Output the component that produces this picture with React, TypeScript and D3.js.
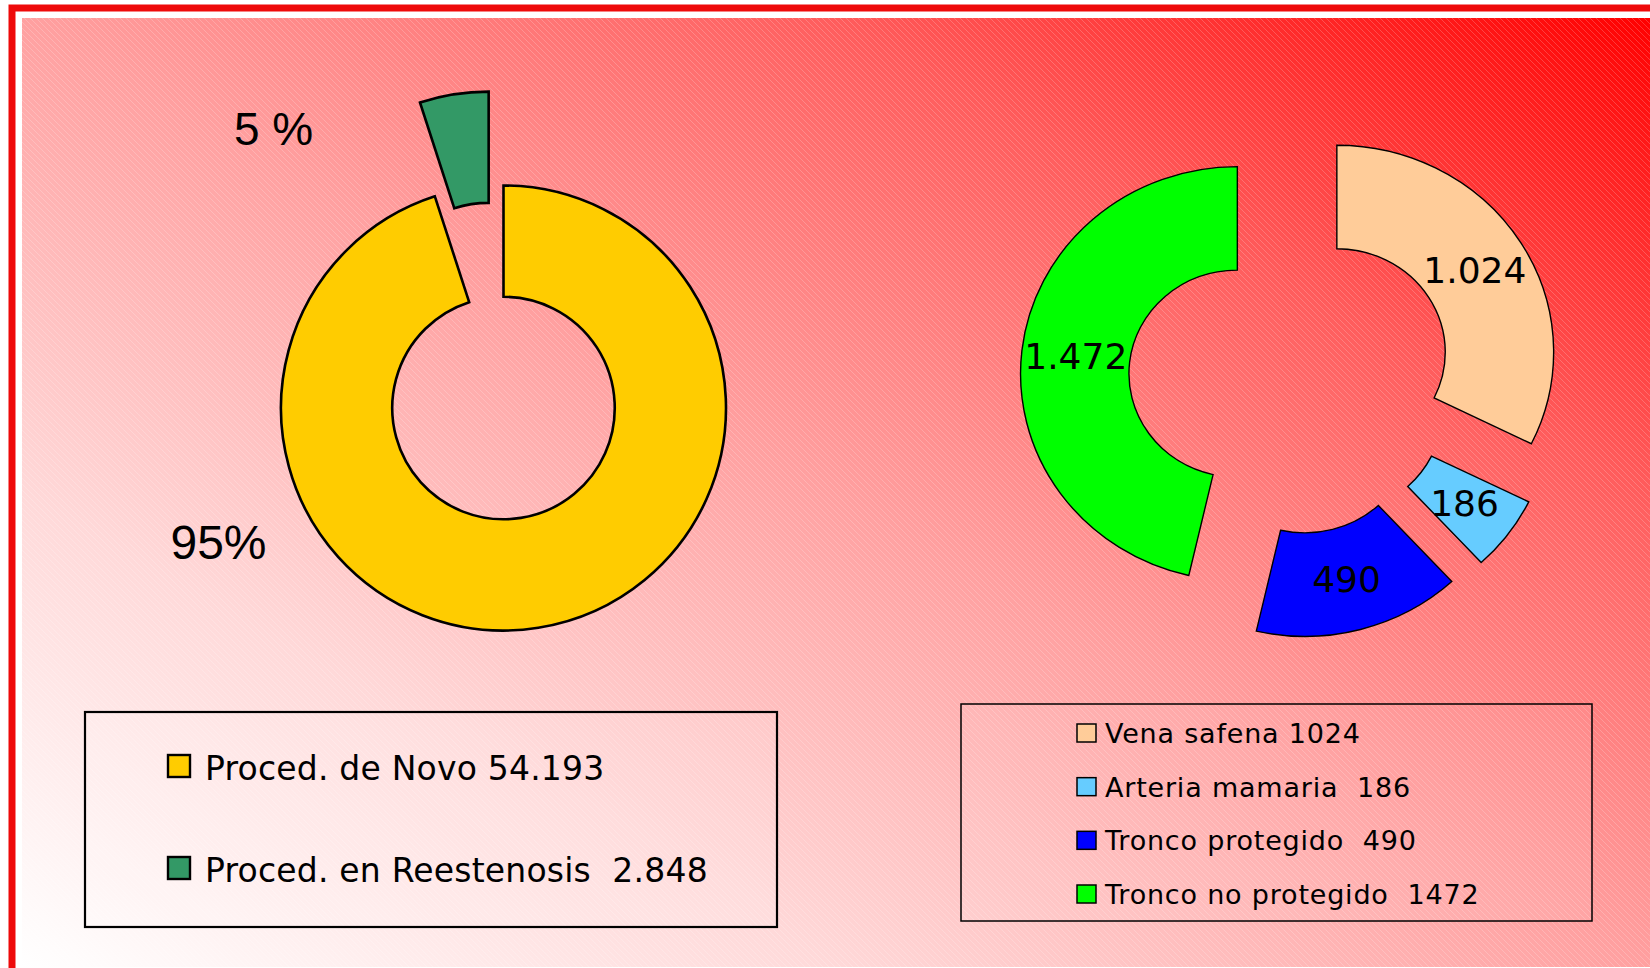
import { useMemo } from "react";
import * as d3 from "d3";

// left doughnut: procedures
const procCategories = ["Proced. de Novo", "Proced. en Reestenosis"];
const procValues = [54193, 2848];
const procLegendGap = [" ", "  "];
const procPctLabels = ["95%", "5 %"];
const procColors = ["#FFCC00", "#339966"];

// right doughnut: lesion types
const graftCategories = ["Vena safena", "Arteria mamaria", "Tronco protegido", "Tronco no protegido"];
const graftValues = [1024, 186, 490, 1472];
const graftLegendGap = [" ", "  ", "  ", "  "];
const graftColors = ["#FFCC99", "#66CCFF", "#0000FF", "#00FF00"];

const W = 1650;
const H = 968;

const es = d3.formatLocale({ decimal: ",", thousands: ".", grouping: [3], currency: ["", " €"] });
const fmt = es.format(",d");

const SANS = "'DejaVu Sans', Verdana, sans-serif";
const ARIAL = "'Liberation Sans', Arial, sans-serif";

const explodeOffset = (d: d3.PieArcDatum<number>, dist: number) => {
  const mid = (d.startAngle + d.endAngle) / 2;
  return [Math.sin(mid) * dist, -Math.cos(mid) * dist];
};

const LeftDoughnut = () => {
  const cx = 503.5;
  const cy = 408;
  const outer = 222.5;
  const explode = [0, 95];
  // label anchors relative to centre (hand placed in the original slide)
  const labelPos = [
    [-285, 151],
    [-230, 145 - cy],
  ];
  const sizes = [48, 46];

  const arcs = useMemo(() => d3.pie<number>().sort(null).value((d) => d)(procValues), []);
  const arc = d3.arc<d3.PieArcDatum<number>>().innerRadius(outer * 0.5).outerRadius(outer);

  return (
    <g transform={`translate(${cx},${cy})`}>
      {arcs.map((a, i) => {
        const [ox, oy] = explodeOffset(a, explode[i]);
        return (
          <path
            key={`p-${i}`}
            d={arc(a)!}
            transform={`translate(${ox},${oy})`}
            fill={procColors[i]}
            stroke="#000"
            strokeWidth={2.6}
            strokeLinejoin="miter"
          />
        );
      })}
      {procPctLabels.map((t, i) => (
        <text
          key={`l-${i}`}
          x={labelPos[i][0]}
          y={labelPos[i][1]}
          textAnchor="middle"
          fontFamily={ARIAL}
          fontSize={sizes[i]}
          fill="#000"
          style={{ whiteSpace: "pre" }}
        >
          {t}
        </text>
      ))}
    </g>
  );
};

const RightDoughnut = () => {
  const cx = 1291;
  const cy = 379.5;
  const outer = 216.8;
  const explode = 54;
  const sy = 0.955;

  const arcs = useMemo(() => d3.pie<number>().sort(null).value((d) => d)(graftValues), []);
  const arc = d3.arc<d3.PieArcDatum<number>>().innerRadius(outer * 0.5).outerRadius(outer);

  return (
    <g>
      <g transform={`translate(${cx},${cy}) scale(1,${sy})`}>
        {arcs.map((a, i) => {
          const [ox, oy] = explodeOffset(a, explode);
          return (
            <path
              key={`s-${i}`}
              d={arc(a)!}
              transform={`translate(${ox},${oy})`}
              fill={graftColors[i]}
              stroke="#000"
              strokeWidth={1.4}
              vectorEffect="non-scaling-stroke"
            />
          );
        })}
      </g>
      {arcs.map((a, i) => {
        const [ox, oy] = explodeOffset(a, explode);
        const [mx, my] = arc.centroid(a);
        return (
          <text
            key={`t-${i}`}
            x={cx + ox + mx}
            y={cy + (oy + my) * sy}
            dy="0.36em"
            textAnchor="middle"
            fontFamily={SANS}
            fontSize={36}
            fill="#000"
          >
            {fmt(graftValues[i])}
          </text>
        );
      })}
    </g>
  );
};

const LeftLegend = () => {
  const box = { x: 85, y: 712, w: 692, h: 215 };
  const y = d3.scalePoint<number>().domain(procValues.map((_, i) => i)).range([780, 882]);
  return (
    <g>
      <rect x={box.x} y={box.y} width={box.w} height={box.h} fill="rgba(255,255,255,0.15)" stroke="#000" strokeWidth={2.2} />
      {procCategories.map((c, i) => (
        <g key={c} transform={`translate(0,${y(i)})`}>
          <rect x={168} y={-25} width={22} height={22} fill={procColors[i]} stroke="#000" strokeWidth={2.4} />
          <text
            x={205}
            y={0}
            fontFamily={SANS}
            fontSize={33}
            letterSpacing={0.2}
            fill="#000"
            style={{ whiteSpace: "pre" }}
          >
            {`${c}${procLegendGap[i]}${fmt(procValues[i])}`}
          </text>
        </g>
      ))}
    </g>
  );
};

const RightLegend = () => {
  const box = { x: 961, y: 704, w: 631, h: 217 };
  const y = d3.scalePoint<number>().domain(graftValues.map((_, i) => i)).range([743, 904]);
  return (
    <g>
      <rect x={box.x} y={box.y} width={box.w} height={box.h} fill="rgba(255,255,255,0.08)" stroke="#000" strokeWidth={1.5} />
      {graftCategories.map((c, i) => (
        <g key={c} transform={`translate(0,${y(i)})`}>
          <rect x={1077} y={-19} width={19} height={18} fill={graftColors[i]} stroke="#000" strokeWidth={1.5} />
          <text
            x={1105}
            y={0}
            fontFamily={SANS}
            fontSize={27}
            letterSpacing={0.8}
            fill="#000"
            style={{ whiteSpace: "pre" }}
          >
            {`${c}${graftLegendGap[i]}${graftValues[i]}`}
          </text>
        </g>
      ))}
    </g>
  );
};

const App = () => {
  return (
    <svg
      width={W}
      height={H}
      viewBox={`0 0 ${W} ${H}`}
      style={{ position: "absolute", left: 0, top: 0, display: "block" }}
    >
      <defs>
        <linearGradient id="bg" x1="0" y1="1" x2="1" y2="0">
          <stop offset="0" stopColor="#FFFFFF" />
          <stop offset="0.25" stopColor="#FFD9D9" />
          <stop offset="0.5" stopColor="#FFA0A0" />
          <stop offset="0.75" stopColor="#FF5C5C" />
          <stop offset="1" stopColor="#FF0000" />
        </linearGradient>
        <pattern id="stripes" width={6} height={6} patternUnits="userSpaceOnUse">
          <path d="M-1,-1 L7,7" stroke="#FFFFFF" strokeWidth={0.8} strokeOpacity={0.25} />
        </pattern>
      </defs>
      <rect x={0} y={0} width={W} height={H} fill="#FFFFFF" />
      <rect x={12} y={8} width={W + 20} height={H + 20} fill="none" stroke="#EE0A0A" strokeWidth={7} />
      <rect x={22} y={18} width={W - 22} height={H - 19} fill="url(#bg)" />
      <rect x={22} y={18} width={W - 22} height={H - 19} fill="url(#stripes)" />
      <LeftDoughnut />
      <RightDoughnut />
      <LeftLegend />
      <RightLegend />
    </svg>
  );
};

export default App;
